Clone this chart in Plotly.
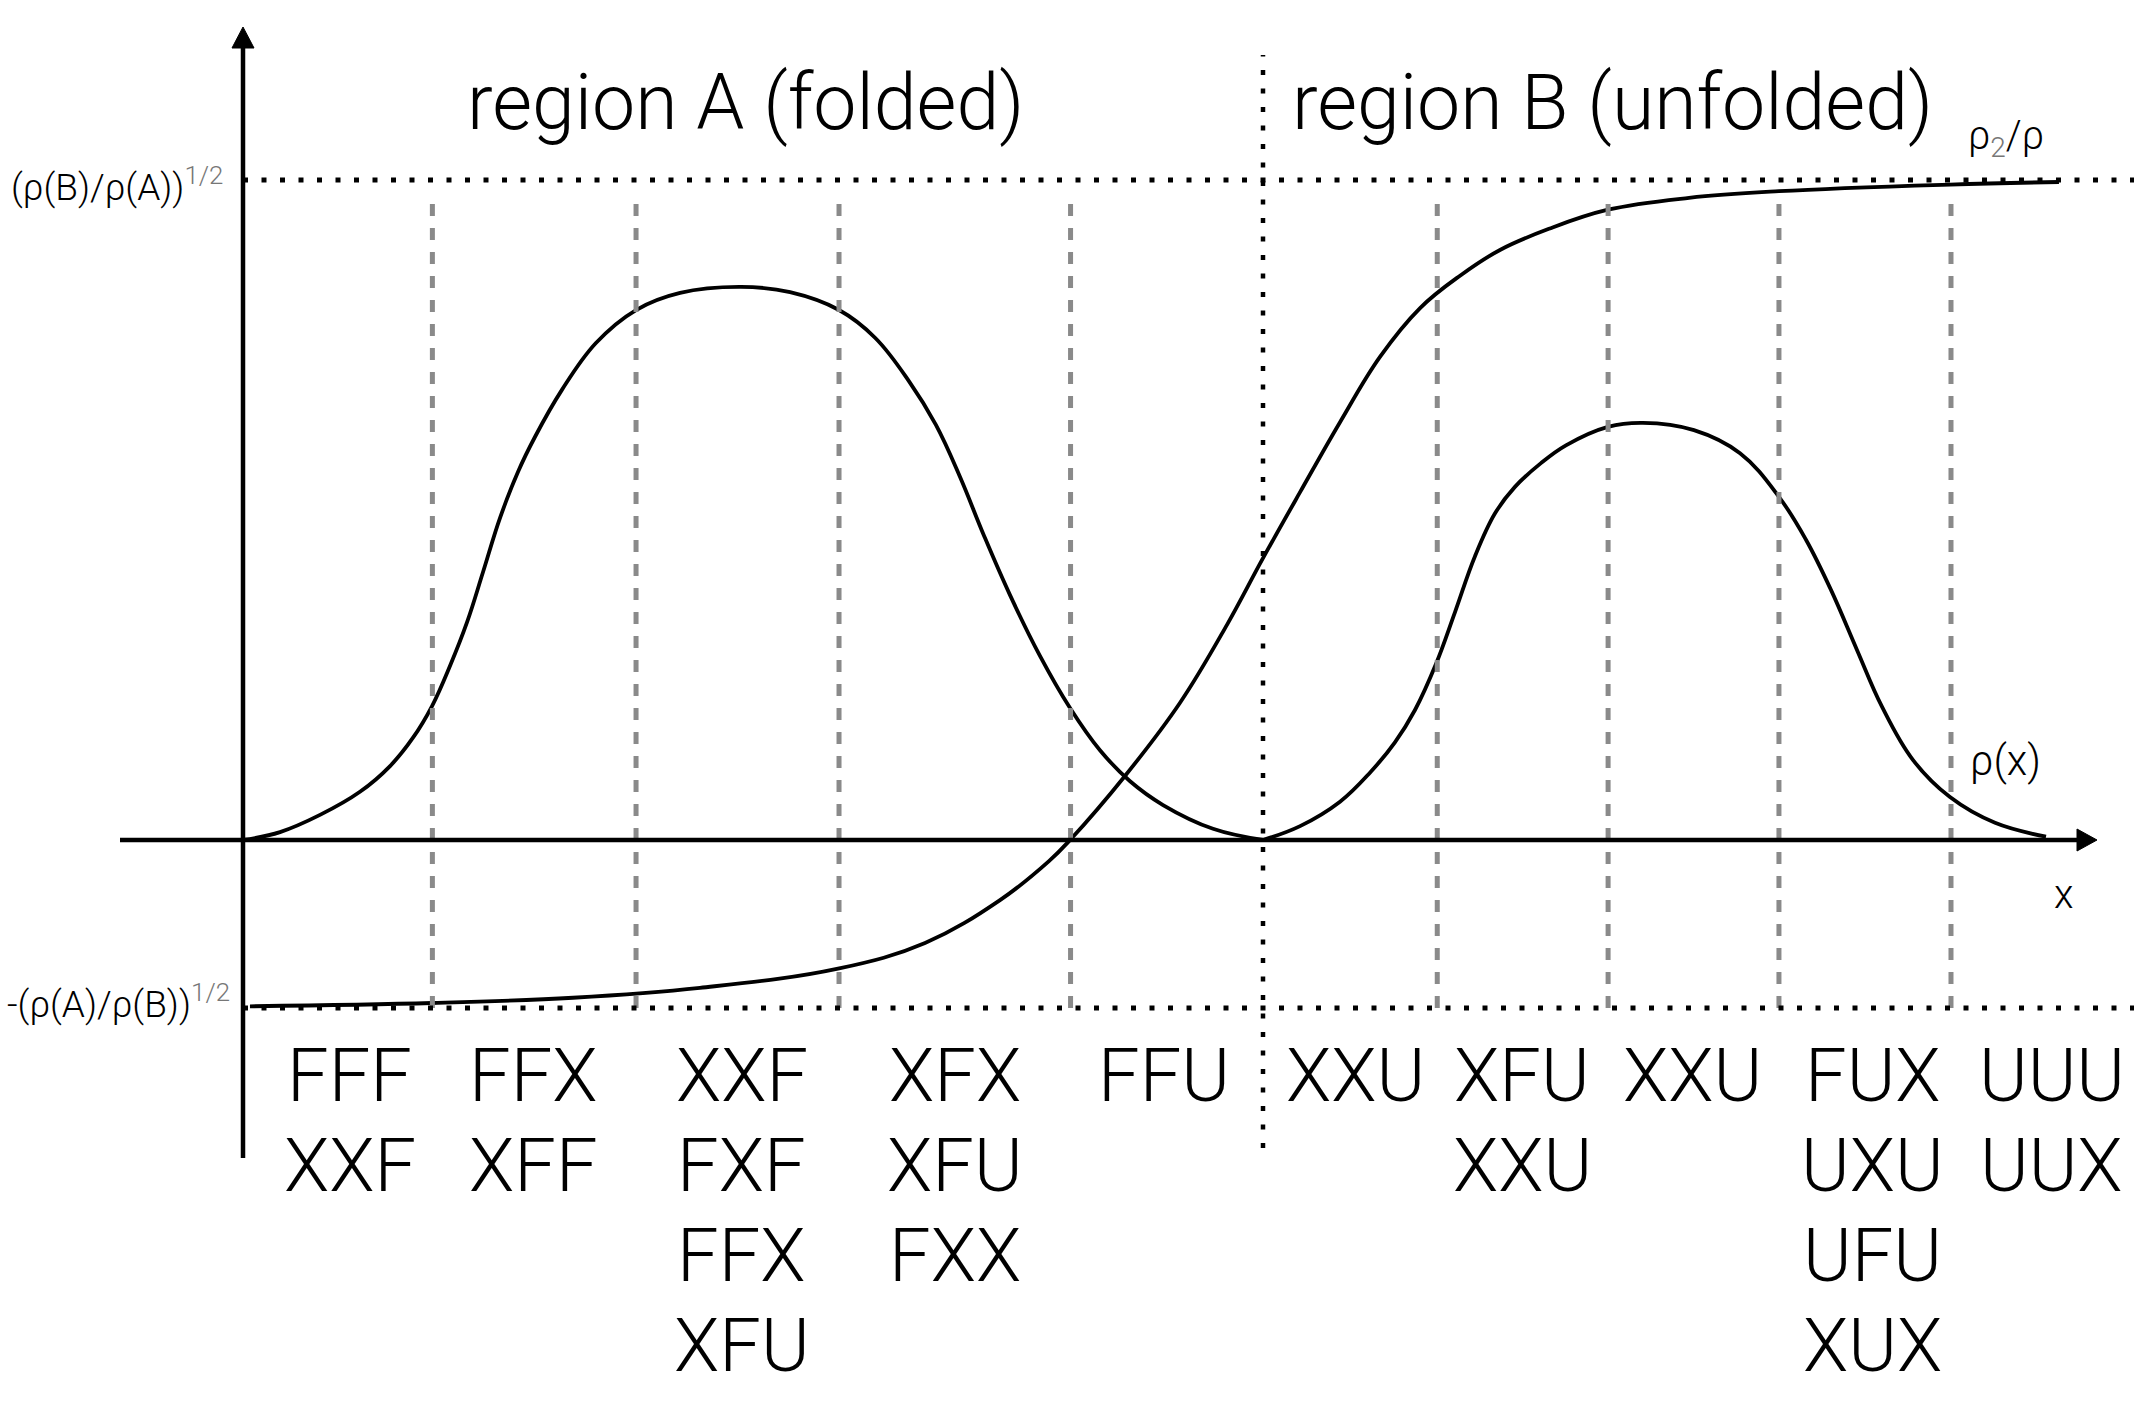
import plotly.graph_objects as go

# ---------------- data ----------------
# x unit: y-axis at 0, region boundary at 6 ; y unit: upper asymptote = 1
bumpA_x = [0.000, 0.218, 0.453, 0.688, 0.865, 1.000, 1.112, 1.218, 1.318, 1.412, 1.512,
           1.618, 1.718, 1.876, 2.076, 2.312, 2.571, 2.929, 3.218, 3.506, 3.718, 3.918, 4.076,
           4.218, 4.359, 4.512, 4.688, 4.865, 5.041, 5.218, 5.412, 5.706, 6.000]
bumpA_y = [0.000, 0.012, 0.038, 0.073, 0.112, 0.155, 0.203, 0.264, 0.330, 0.406, 0.488,
           0.558, 0.611, 0.682, 0.753, 0.803, 0.829, 0.838, 0.830, 0.803, 0.761, 0.695, 0.629,
           0.550, 0.461, 0.371, 0.279, 0.200, 0.136, 0.089, 0.053, 0.017, 0.000]

bumpB_x = [6.000, 6.218, 6.453, 6.629, 6.776, 6.894, 7.018, 7.129, 7.247, 7.365, 7.482, 7.635,
           7.782, 8.029, 8.235, 8.535, 8.806, 9.035, 9.194, 9.341, 9.494, 9.641, 9.824, 10.041,
           10.306, 10.606]
bumpB_y = [0.000, 0.021, 0.058, 0.102, 0.148, 0.197, 0.267, 0.345, 0.430, 0.495, 0.535, 0.571,
           0.598, 0.626, 0.632, 0.621, 0.586, 0.520, 0.455, 0.379, 0.288, 0.202, 0.121, 0.065,
           0.026, 0.005]

sig_x = [0.041, 1.112, 1.941, 2.688, 3.500, 4.012, 4.453, 4.741, 4.865, 5.188, 5.512, 5.788,
         6.000, 6.218, 6.453, 6.688, 6.924, 7.159, 7.394, 7.682, 8.029, 8.506, 9.035, 10.041,
         10.682]
sig_y = [-0.252, -0.247, -0.239, -0.224, -0.195, -0.156, -0.091, -0.032, 0.000, 0.097, 0.208,
         0.326, 0.427, 0.527, 0.633, 0.732, 0.806, 0.855, 0.894, 0.926, 0.955, 0.973, 0.983,
         0.993, 0.997]

upper_level = 1.0        # (rho(B)/rho(A))^1/2
lower_level = -0.2545    # -(rho(A)/rho(B))^1/2
region_boundary = 6.0
state_boundaries = [1.114, 2.312, 3.506, 4.868, 7.025, 8.030, 9.035, 10.047]

column_x = [0.629, 1.706, 2.935, 4.188, 5.418, 6.547, 7.524, 8.529, 9.588, 10.641]
column_labels = [
    ["FFF", "XXF"],
    ["FFX", "XFF"],
    ["XXF", "FXF", "FFX", "XFU"],
    ["XFX", "XFU", "FXX"],
    ["FFU"],
    ["XXU"],
    ["XFU", "XXU"],
    ["XXU"],
    ["FUX", "UXU", "UFU", "XUX"],
    ["UUU", "UUX"],
]
region_titles = ["region A (folded)", "region B (unfolded)"]
region_title_x = [2.953, 8.053]

# ---------------- figure ----------------
W, H = 2134, 1425
PX = 170.0   # px per x unit
PY = 660.0   # px per y unit
X0, Y0 = 243.0, 840.0
xr = [-X0 / PX, (W - X0) / PX]
yr = [(Y0 - H) / PY, Y0 / PY]

FONT = "Roboto"
fig = go.Figure()

shapes = []
# dashed gray state boundaries
for b in state_boundaries:
    shapes.append(dict(type="line", x0=b, x1=b, y0=(Y0 - 1008) / PY, y1=(Y0 - 192) / PY,
                       line=dict(color="#8a8a8a", width=5, dash="12px,12px")))
# dotted horizontal asymptote lines
for lv in (upper_level, lower_level):
    shapes.append(dict(type="line", x0=0, x1=xr[1] + 0.05, y0=lv, y1=lv,
                       line=dict(color="black", width=5, dash="5px,13.5px")))
# dotted vertical region boundary
shapes.append(dict(type="line", x0=region_boundary, x1=region_boundary,
                   y0=(Y0 - 1148) / PY, y1=(Y0 - 55) / PY,
                   line=dict(color="black", width=4.5, dash="5px,13.5px")))
# axes
shapes.append(dict(type="line", x0=(120 - X0) / PX, x1=(2080 - X0) / PX, y0=0, y1=0,
                   line=dict(color="black", width=4.5)))
shapes.append(dict(type="line", x0=0, x1=0, y0=(Y0 - 1158) / PY, y1=(Y0 - 45) / PY,
                   line=dict(color="black", width=4.5)))

# curves
for xs, ys in ((bumpA_x, bumpA_y), (bumpB_x, bumpB_y), (sig_x, sig_y)):
    fig.add_trace(go.Scatter(x=xs, y=ys, mode="lines",
                             line=dict(color="black", width=3.8, shape="spline", smoothing=1.1),
                             hoverinfo="skip", showlegend=False))

# arrowheads
tip_x = (2097 - X0) / PX
fig.add_trace(go.Scatter(x=[tip_x - 20 / PX, tip_x, tip_x - 20 / PX, tip_x - 20 / PX],
                         y=[11 / PY, 0, -11 / PY, 11 / PY], mode="lines", fill="toself",
                         fillcolor="black", line=dict(color="black", width=1),
                         hoverinfo="skip", showlegend=False))
tip_y = (Y0 - 27) / PY
fig.add_trace(go.Scatter(x=[-11 / PX, 0, 11 / PX, -11 / PX],
                         y=[tip_y - 21 / PY, tip_y, tip_y - 21 / PY, tip_y - 21 / PY],
                         mode="lines", fill="toself", fillcolor="black",
                         line=dict(color="black", width=1), hoverinfo="skip", showlegend=False))

ann = []
# region titles
for t, x in zip(region_titles, region_title_x):
    ann.append(dict(x=x, y=(Y0 - 103) / PY, text=t, showarrow=False, xanchor="center",
                    yanchor="middle", font=dict(family=FONT, size=77, color="black", weight=300)))
# state labels
row_gap = 90 / PY
first_row = (Y0 - 1075) / PY
for cx, labels in zip(column_x, column_labels):
    for i, lab in enumerate(labels):
        ann.append(dict(x=cx, y=first_row - i * row_gap, text=lab, showarrow=False,
                        xanchor="center", yanchor="middle",
                        font=dict(family=FONT, size=74, color="black", weight=300)))
# level labels
ann.append(dict(x=(225 - X0) / PX, y=(Y0 - 184) / PY, xanchor="right",
                yanchor="middle", showarrow=False,
                text="(ρ(B)/ρ(A))<sup><span style='color:#777'>1/2</span></sup>",
                font=dict(family=FONT, size=37, color="black", weight=300)))
ann.append(dict(x=(232 - X0) / PX, y=(Y0 - 1001) / PY, xanchor="right",
                yanchor="middle", showarrow=False,
                text="-(ρ(A)/ρ(B))<sup><span style='color:#777'>1/2</span></sup>",
                font=dict(family=FONT, size=37, color="black", weight=300)))
ann.append(dict(x=(1966 - X0) / PX, y=(Y0 - 138) / PY, xanchor="left", yanchor="middle",
                showarrow=False, text="ρ<sub><span style='color:#777'>2</span></sub>/ρ",
                font=dict(family=FONT, size=40, color="black", weight=300)))
ann.append(dict(x=(1968 - X0) / PX, y=(Y0 - 760) / PY, xanchor="left", yanchor="middle",
                showarrow=False, text="ρ(x)",
                font=dict(family=FONT, size=42, color="black", weight=300)))
ann.append(dict(x=(2063 - X0) / PX, y=(Y0 - 894) / PY, xanchor="center", yanchor="middle",
                showarrow=False, text="x",
                font=dict(family=FONT, size=40, color="black", weight=300)))

fig.update_layout(
    width=W, height=H, margin=dict(l=0, r=0, t=0, b=0),
    paper_bgcolor="white", plot_bgcolor="white",
    xaxis=dict(range=xr, visible=False, fixedrange=True),
    yaxis=dict(range=yr, visible=False, fixedrange=True),
    shapes=shapes, annotations=ann, showlegend=False,
)
fig.write_html("out.html")
